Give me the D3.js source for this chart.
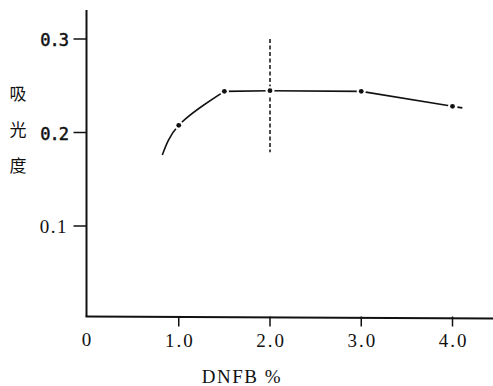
<!DOCTYPE html>
<html><head><meta charset="utf-8">
<script src="https://cdn.jsdelivr.net/npm/d3@7/dist/d3.min.js"></script>
<style>html,body{margin:0;padding:0;background:#fff;}</style>
</head><body>
<svg id="c" width="493" height="386"></svg>
<script>
// Data
const curveX = [0.82, 1.0, 1.5];
const curveY = [0.176, 0.2077, 0.244];
const lineX = [1.5, 2.0, 3.0, 4.0, 4.16];
const lineY = [0.244, 0.2447, 0.244, 0.228, 0.2255];
const pointX = [1.0, 1.5, 2.0, 3.0, 4.0];
const pointY = [0.2077, 0.244, 0.2447, 0.244, 0.228];
const markerX = 2.0;
const markerRange = [0.179, 0.3];
const xTicks = [1.0, 2.0, 3.0, 4.0];
const xTickLabels = ["1.0", "2.0", "3.0", "4.0"];
const yTicks = [0.1, 0.2, 0.3];
const yTickLabels = ["0.1", "0.2", "0.3"];
const xTitle = "DNFB %";
const yTitle = ["吸", "光", "度"];

const svg = d3.select("#c");
const x = d3.scaleLinear().domain([0, 4]).range([87.5, 452.5]);
const y = d3.scaleLinear().domain([0, 0.3]).range([319.5, 39]);
const axisY = 316.5, axisX = 86.5;

// axes lines
svg.append("line").attr("x1", axisX).attr("x2", axisX).attr("y1", 10).attr("y2", axisY)
  .attr("stroke", "#111").attr("stroke-width", 2);
svg.append("line").attr("x1", axisX - 1).attr("x2", 493).attr("y1", axisY).attr("y2", axisY + 2)
  .attr("stroke", "#111").attr("stroke-width", 2);

// x ticks
const xt = svg.append("g");
xTicks.forEach((t, i) => {
  xt.append("line").attr("x1", x(t)).attr("x2", x(t)).attr("y1", axisY).attr("y2", axisY + 10)
    .attr("stroke", "#111").attr("stroke-width", 1.5);
  xt.append("text").attr("x", x(t) + 1).attr("y", 347).attr("text-anchor", "middle")
    .attr("font-family", "Liberation Serif, serif").attr("font-size", 19).attr("letter-spacing", 2)
    .attr("fill", "#111").text(xTickLabels[i]);
});
svg.append("text").attr("x", x(0) - 1).attr("y", 346).attr("text-anchor", "middle")
  .attr("font-family", "Liberation Serif, serif").attr("font-size", 19).attr("fill", "#111").text("0");

// y ticks
yTicks.forEach((t, i) => {
  svg.append("line").attr("x1", axisX - 13).attr("x2", axisX).attr("y1", y(t)).attr("y2", y(t))
    .attr("stroke", "#111").attr("stroke-width", 1.5);
  svg.append("text").attr("x", 68).attr("y", y(t) + 7).attr("text-anchor", "end")
    .attr("font-family", t === 0.1 ? "Liberation Serif, serif" : "DejaVu Sans Mono, monospace")
    .attr("font-weight", "normal")
    .attr("stroke", t === 0.1 ? "none" : "#111").attr("stroke-width", 0.5)
    .attr("font-size", t === 0.1 ? 19 : 17).attr("letter-spacing", t === 0.1 ? 1.5 : -1)
    .attr("fill", "#111").text(yTickLabels[i]);
});

// titles
svg.append("text").attr("x", 242).attr("y", 383).attr("text-anchor", "middle")
  .attr("font-family", "Liberation Serif, serif").attr("font-size", 19).attr("letter-spacing", 1.5)
  .attr("fill", "#111").text(xTitle);
yTitle.forEach((c, i) => {
  svg.append("text").attr("x", 18).attr("y", 100 + i * 36).attr("text-anchor", "middle")
    .attr("font-family", "Noto Sans CJK SC, sans-serif").attr("font-size", 17).attr("fill", "#111").text(c);
});

// dashed vertical marker
svg.append("line").attr("x1", x(markerX)).attr("x2", x(markerX))
  .attr("y1", y(markerRange[1])).attr("y2", y(markerRange[0]))
  .attr("stroke", "#111").attr("stroke-width", 1.5).attr("stroke-dasharray", "4,2.5");

// curves
svg.append("path").datum(curveX.map((v, i) => [v, curveY[i]]))
  .attr("d", d3.line().x(d => x(d[0])).y(d => y(d[1])).curve(d3.curveMonotoneY))
  .attr("fill", "none").attr("stroke", "#111").attr("stroke-width", 1.6);
const lp = lineX.map((v, i) => [v, lineY[i]]);
svg.append("path").datum(lp.slice(0, 4))
  .attr("d", d3.line().x(d => x(d[0])).y(d => y(d[1]))).attr("fill", "none").attr("stroke", "#111").attr("stroke-width", 1.6);
svg.append("path").datum(lp.slice(3))
  .attr("d", d3.line().x(d => x(d[0])).y(d => y(d[1]))).attr("fill", "none").attr("stroke", "#111").attr("stroke-width", 1.6)
  .attr("stroke-dasharray", "0,5,5,2");

// gaps + points
pointX.forEach((v, i) => {
  svg.append("circle").attr("cx", x(v)).attr("cy", y(pointY[i])).attr("r", 4.5).attr("fill", "#fff");
  svg.append("circle").attr("cx", x(v)).attr("cy", y(pointY[i])).attr("r", 2.4).attr("fill", "#111");
});
</script>
</body></html>
